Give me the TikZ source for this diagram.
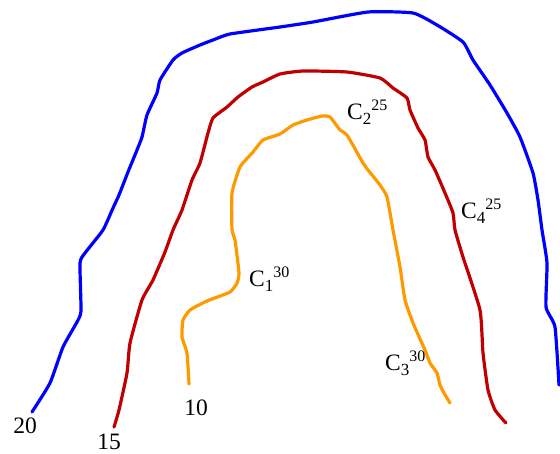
\documentclass[tikz,border=0pt]{standalone}
\usepackage{fontspec}
\setmainfont{Liberation Serif}
\definecolor{cblue}{RGB}{0,0,255}
\definecolor{cred}{RGB}{192,0,0}
\definecolor{corange}{RGB}{255,153,0}
\newcommand{\clabel}[2]{C\raisebox{-5pt}{\fontsize{17}{17}\selectfont #1}\raisebox{9pt}{\fontsize{16}{16}\selectfont #2}}
\begin{document}
\begin{tikzpicture}[x=1pt,y=-1pt,
  contour/.style={line width=3.2pt,line join=round,line cap=round},
  lbl/.style={anchor=base west,inner sep=0pt,font=\fontsize{23.5}{25}\selectfont},
  num/.style={anchor=base,inner sep=0pt,font=\fontsize{23.5}{25}\selectfont}]
\useasboundingbox (0,0) rectangle (560,453);
% blue contour (20)
\draw[contour,cblue] plot[smooth,tension=0.3] coordinates {
 (32,412) (50,383) (63,347) (77,322) (81,311) (80,263) (85,253) (103,230)
 (113,208) (119,195) (128,172) (137,150) (142,137) (147,115) (157,93) (160,80)
 (173,60) (182,53) (200,45) (213,40) (230,34) (280,27) (313,22) (368,12)
 (413,13) (437,25) (463,42) (473,60) (490,85) (507,113) (520,137) (533,173)
 (538,200) (542,230) (547,263) (546,307) (555,327) (559,385)};
% red contour (15)
\draw[contour,cred] plot[smooth,tension=0.3] coordinates {
 (114,427) (119,410) (127,373) (130,343) (142,300) (153,280) (165,252) (173,230)
 (182,210) (192,180) (200,163) (208,133) (213,118) (227,107) (238,97) (252,87)
 (263,82) (280,74) (303,71) (347,72) (380,78) (393,88) (407,98) (410,110)
 (418,128) (425,140) (428,157) (435,170) (445,193) (453,213) (455,230)
 (463,257) (480,310) (483,353) (488,390) (495,410) (506,423)};
% orange contour (10)
\draw[contour,corange] plot[smooth,tension=0.3] coordinates {
 (189,384) (187,353) (182,337) (183,320) (190,310) (207,301) (230,292) (237,283)
 (239,273) (235,240) (232,230) (232,193) (240,167) (253,152) (263,140) (280,134)
 (293,125) (307,120) (322,116) (330,117) (340,130) (347,135) (363,163) (368,170)
 (380,185) (387,197) (393,230) (400,267) (405,300) (413,323) (425,350) (430,363)
 (437,373) (440,385) (444,393) (450,403)};
% value labels
\node[num] (n20) at (25,433) {20};
\node[num] (n15) at (109,449) {15};
\node[num] (n10) at (196,415) {10};
% curve labels
\node[lbl] (c1) at (249,286) {\clabel{1}{30}};
\node[lbl] (c2) at (347,119) {\clabel{2}{25}};
\node[lbl] (c3) at (385,370) {\clabel{3}{30}};
\node[lbl] (c4) at (461,218) {\clabel{4}{25}};
\end{tikzpicture}
\end{document}
